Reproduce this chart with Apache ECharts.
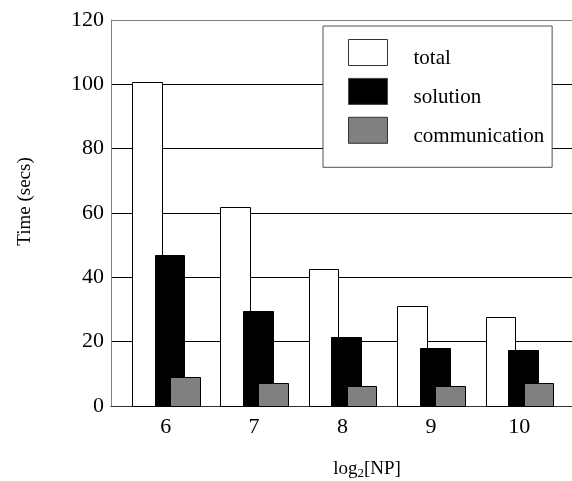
<!DOCTYPE html>
<html>
<head>
<meta charset="utf-8">
<script src="https://cdn.jsdelivr.net/npm/echarts@6/dist/echarts.min.js"></script>
<style>
html,body{margin:0;padding:0;background:#fff;}
#chart{width:572px;height:481px;}
</style>
</head>
<body>
<div id="chart"></div>
<script>
// ---- data ----
const categories = [6, 7, 8, 9, 10];
const totalValues = [100.8, 61.8, 42.7, 31.2, 27.8];
const solutionValues = [47.0, 29.6, 21.4, 18.0, 17.3];
const communicationValues = [8.9, 7.3, 6.1, 6.3, 7.0];
const yTicks = [0, 20, 40, 60, 80, 100, 120];
const xTickLabels = [6, 7, 8, 9, 10];
const seriesNames = ['total', 'solution', 'communication'];

// ---- style ----
const FONT = '"Liberation Serif", "DejaVu Serif", serif';
const BAR_W = 0.336;            // bar width in x-axis units
const OFFSETS = [-0.214, 0.043, 0.216]; // bar centre offsets in x-axis units
const FILLS = ['#ffffff', '#000000', '#808080'];
const STROKES = ['#000000', '#000000', '#000000'];
const LEGEND_STROKES = ['#333333', '#444444', '#333333'];

function toPairs(vals) { return categories.map((c, i) => [c, vals[i]]); }

function makeRender(k) {
  return function (params, api) {
    const x = api.value(0), v = api.value(1);
    const p0 = api.coord([x + OFFSETS[k] - BAR_W / 2, v]);
    const p1 = api.coord([x + OFFSETS[k] + BAR_W / 2, 0]);
    const l = Math.round(p0[0]) + 0.5, r = Math.round(p1[0]) + 0.5;
    const t = Math.round(p0[1]) + 0.5, b = Math.round(p1[1]) + 0.5;
    return {
      type: 'rect',
      shape: { x: l, y: t, width: r - l, height: b - t },
      style: { fill: FILLS[k], stroke: STROKES[k], lineWidth: 1 }
    };
  };
}

const allSeries = [totalValues, solutionValues, communicationValues].map((vals, k) => ({
  name: seriesNames[k],
  type: 'custom',
  renderItem: makeRender(k),
  data: toPairs(vals),
  encode: { x: 0, y: 1 },
  itemStyle: { color: FILLS[k], borderColor: LEGEND_STROKES[k], borderWidth: 1 },
  z: 3 + k,
  clip: false,
  silent: true
}));

const chart = echarts.init(document.getElementById('chart'), null, { renderer: 'canvas' });
chart.setOption({
  animation: false,
  backgroundColor: '#ffffff',
  textStyle: { fontFamily: FONT },
  grid: { left: 111, top: 20, right: 0, bottom: 75, containLabel: false, outerBoundsMode: 'none' },
  xAxis: {
    type: 'value',
    min: 5.381,
    max: 10.596,
    axisLine: { show: true, onZero: false, lineStyle: { color: '#333333', width: 1 } },
    axisTick: { show: false },
    splitLine: { show: false },
    axisLabel: {
      customValues: xTickLabels,
      color: '#000', fontFamily: FONT, fontSize: 22, margin: 10
    },
    name: 'log{sub|2}[NP]',
    nameLocation: 'middle',
    nameGap: 52,
    nameTextStyle: {
      color: '#000', fontFamily: FONT, fontSize: 19, padding: [0, 0, 0, 51],
      rich: { sub: { fontFamily: FONT, fontSize: 13, color: '#000', verticalAlign: 'bottom', lineHeight: 22 } }
    }
  },
  yAxis: {
    type: 'value',
    min: yTicks[0],
    max: yTicks[yTicks.length - 1],
    interval: 20,
    axisLine: { show: true, lineStyle: { color: '#808080', width: 1 } },
    axisTick: { show: false },
    splitLine: { show: true, lineStyle: { color: ['#000', '#000', '#000', '#000', '#000', '#000', '#808080'], width: 1 } },
    axisLabel: { color: '#000', fontFamily: FONT, fontSize: 22, margin: 7 },
    name: 'Time (secs)',
    nameLocation: 'middle',
    nameGap: 76,
    nameTextStyle: { color: '#000', fontFamily: FONT, fontSize: 19, padding: [0, 0, 0, 23] }
  },
  legend: {
    orient: 'vertical',
    left: 323,
    top: 26,
    padding: [13, 8, 20.5, 25],
    backgroundColor: '#ffffff',
    borderColor: '#505050',
    borderWidth: 1,
    borderRadius: 0,
    itemWidth: 39,
    itemHeight: 26,
    itemGap: 8.9,
    selectedMode: false,
    formatter: function (n) { return '{s| }\n{t|' + n + '}'; },
    textStyle: {
      color: '#000', fontFamily: FONT, fontSize: 21, padding: [0, 0, 0, 21],
      rich: {
        s: { fontSize: 1, lineHeight: 12 },
        t: { fontSize: 21, fontFamily: FONT, color: '#000', lineHeight: 12 }
      }
    },
    data: seriesNames.map((n, k) => ({
      name: n,
      icon: 'rect',
      itemStyle: { color: FILLS[k], borderColor: LEGEND_STROKES[k], borderWidth: 1 }
    })),
    z: 10
  },
  series: allSeries
});
</script>
</body>
</html>
